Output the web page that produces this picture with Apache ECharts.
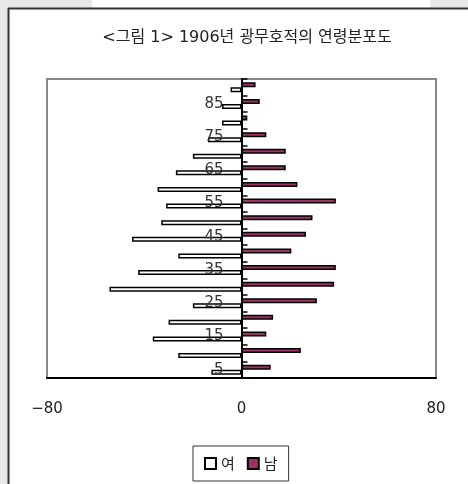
<!DOCTYPE html>
<html>
<head>
<meta charset="utf-8">
<script src="https://cdn.jsdelivr.net/npm/echarts@6/dist/echarts.min.js"></script>
<style>
html,body{margin:0;padding:0;background:#fff;}
#c{width:468px;height:484px;}
</style>
</head>
<body>
<div id="c"></div>
<script>
const titleText = '<그림 1> 1906년 광무호적의 연령분포도';
const ages = ['5','10','15','20','25','30','35','40','45','50','55','60','65','70','75','80','85','90'];
const female = [12.4, 26, 36.5, 30, 20, 54.3, 42.5, 26, 45, 33, 31, 34.5, 27, 20, 13.8, 8, 8, 4.5];
const male = [12, 24.4, 10.2, 13, 31, 38.1, 38.8, 20.5, 26.5, 29.2, 38.8, 23, 18.2, 18.2, 10.2, 2.4, 7.5, 5.8];
const xTicks = [-80, 0, 80];

const W = 468;
const gridLeft = 47, gridRight = 32, gridTop = 79, gridBottom = 106;
const gridWidth = W - gridLeft - gridRight;
// distance from the grid's left edge to the value 0 on the x axis
const zeroOffset = (0 - xTicks[0]) / (xTicks[2] - xTicks[0]) * gridWidth;

const chart = echarts.init(document.getElementById('c'), null, {renderer: 'canvas'});
const font = '"DejaVu Sans", "Noto Sans CJK KR", sans-serif';
const kfont = '"Noto Sans CJK KR", "DejaVu Sans", sans-serif';
chart.setOption({
  backgroundColor: '#fff',
  animation: false,
  textStyle: {fontFamily: font},
  graphic: [
    {type: 'rect', shape: {x: 0, y: 0, width: 8, height: 484}, style: {fill: '#e8e8e8'}, silent: true},
    {type: 'rect', shape: {x: 0, y: 0, width: 92, height: 8}, style: {fill: '#e8e8e8'}, silent: true},
    {type: 'rect', shape: {x: 430, y: 0, width: 38, height: 8}, style: {fill: '#e8e8e8'}, silent: true},
    {type: 'line', shape: {x1: 8.5, y1: 8, x2: 8.5, y2: 484}, style: {stroke: '#333', lineWidth: 2}, silent: true},
    {type: 'line', shape: {x1: 8, y1: 8.5, x2: 468, y2: 8.5}, style: {stroke: '#333', lineWidth: 2}, silent: true}
  ],
  title: {
    text: titleText,
    left: 242,
    textAlign: 'center',
    top: 25,
    textStyle: {fontSize: 16, fontWeight: 'normal', color: '#222', fontFamily: font}
  },
  legend: {
    data: ['여', '남'],
    left: 193,
    top: 446,
    itemWidth: 11,
    itemHeight: 11,
    itemGap: 12,
    padding: [10, 11],
    borderColor: '#333',
    borderWidth: 1,
    backgroundColor: '#fff',
    icon: 'rect',
    textStyle: {fontSize: 15, color: '#222', fontFamily: kfont}
  },
  grid: {
    left: gridLeft, right: gridRight, top: gridTop, bottom: gridBottom,
    show: true, borderColor: '#888', borderWidth: 2, backgroundColor: 'transparent'
  },
  xAxis: {
    type: 'value',
    min: xTicks[0], max: xTicks[2], interval: 80,
    splitLine: {show: false},
    axisLine: {show: true, onZero: false, lineStyle: {color: '#000', width: 2}},
    axisTick: {show: false},
    axisLabel: {margin: 24, fontSize: 15, color: '#222', fontFamily: font,
      formatter: v => (v < 0 ? '\u2212' + Math.abs(v) : String(v))}
  },
  yAxis: {
    type: 'category',
    data: ages,
    z: 3,
    position: 'left',
    offset: -zeroOffset,
    axisLine: {show: true, onZero: false, lineStyle: {color: '#000', width: 2}},
    axisTick: {show: true, inside: true, length: 6, interval: 0, lineStyle: {color: '#000', width: 1.5}},
    axisLabel: {interval: 1, margin: 18, fontSize: 15, color: '#333', fontFamily: font},
    splitLine: {show: false}
  },
  series: [
    {
      name: '남', type: 'bar',
      data: male,
      barWidth: 5, barGap: '0%',
      itemStyle: {color: '#993366', borderColor: '#000', borderWidth: 1.5}
    },
    {
      name: '여', type: 'bar',
      data: female.map(v => -v),
      barWidth: 5, barGap: '0%',
      itemStyle: {color: '#fff', borderColor: '#000', borderWidth: 1.5}
    }
  ]
});
</script>
</body>
</html>
